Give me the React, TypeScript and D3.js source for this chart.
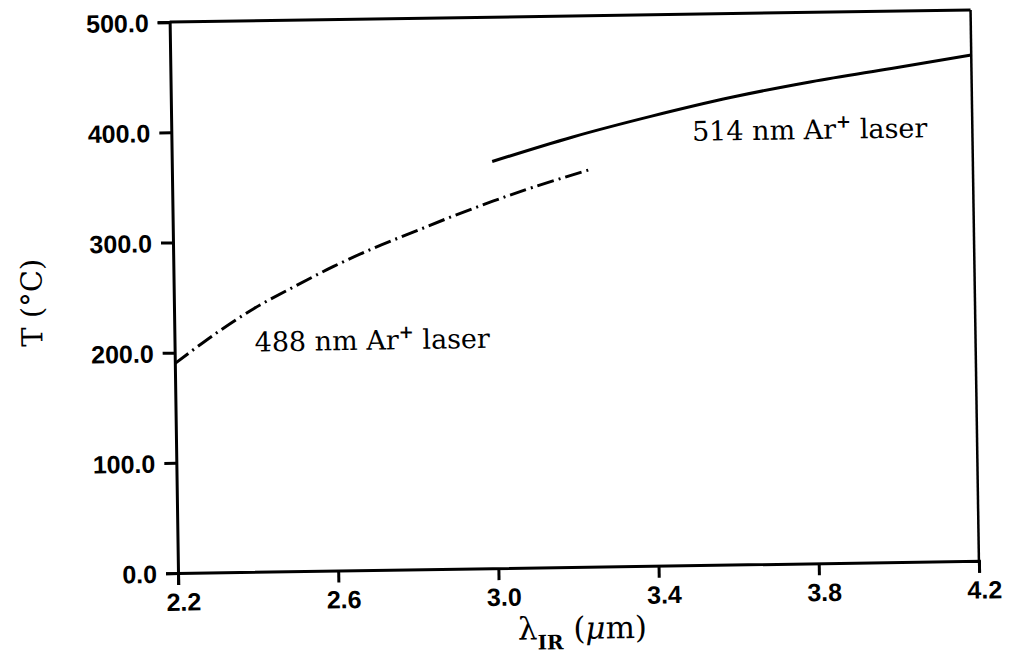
import { useEffect, useRef } from "react";
import * as d3 from "d3";

// 488 nm Ar+ laser (dash-dot curve)
const ar488X = [2.2, 2.3, 2.4, 2.5, 2.6, 2.7, 2.8, 2.9, 3.0, 3.1, 3.24];
const ar488T = [190, 216, 239, 258, 276, 292, 306, 320, 333, 345, 360];

// 514 nm Ar+ laser (solid curve)
const ar514X = [3.0, 3.2, 3.4, 3.6, 3.8, 4.0, 4.2];
const ar514T = [369, 390, 408, 424, 437, 448, 459];

const xTicks = [2.2, 2.6, 3.0, 3.4, 3.8, 4.2];
const yTicks = [0, 100, 200, 300, 400, 500];

const W = 1010;
const H = 669;
// plot box (the scan is turned a little, so the whole chart gets rotated)
const margin = { left: 178, bottom: 96, width: 801, height: 551 };
const tilt = -0.87;

export default function App() {
  const svgRef = useRef<SVGSVGElement>(null);

  useEffect(() => {
    const svg = d3.select(svgRef.current);
    const g = svg.select<SVGGElement>("g.plot");
    g.selectAll("*").remove();

    const x0 = margin.left;
    const y0 = H - margin.bottom;

    const x = d3.scaleLinear().domain([2.2, 4.2]).range([x0, x0 + margin.width]);
    const y = d3.scaleLinear().domain([0, 500]).range([y0, y0 - margin.height]);

    // frame: top and right edges
    g.append("line")
      .attr("x1", x(2.2)).attr("x2", x(4.2))
      .attr("y1", y(500)).attr("y2", y(500))
      .attr("stroke", "#000").attr("stroke-width", 3);
    g.append("line")
      .attr("x1", x(4.2)).attr("x2", x(4.2))
      .attr("y1", y(500)).attr("y2", y(0))
      .attr("stroke", "#000").attr("stroke-width", 2.5);

    // x axis
    const xAxis = d3.axisBottom(x)
      .tickValues(xTicks)
      .tickFormat(d3.format(".1f"))
      .tickSize(12)
      .tickPadding(8);
    const gx = g.append("g").attr("transform", `translate(0,${y0})`).call(xAxis);

    // y axis
    const yAxis = d3.axisLeft(y)
      .tickValues(yTicks)
      .tickFormat(d3.format(".1f"))
      .tickSize(12)
      .tickPadding(9);
    const gy = g.append("g").attr("transform", `translate(${x0},0)`).call(yAxis);

    [gx, gy].forEach((ax) => {
      ax.select(".domain").attr("stroke", "#000").attr("stroke-width", 3);
      ax.selectAll(".tick line").attr("stroke", "#000").attr("stroke-width", 3);
      ax.selectAll(".tick text")
        .attr("fill", "#000")
        .attr("font-family", "'Liberation Sans', Arial, sans-serif")
        .attr("font-weight", "bold")
        .attr("font-size", 25);
    });
    gx.selectAll(".tick text").attr("dx", 5);
    gy.selectAll(".tick text").attr("dy", "0.36em");

    // curves
    const line = d3.line<[number, number]>()
      .x((d) => x(d[0]))
      .y((d) => y(d[1]))
      .curve(d3.curveCatmullRom);

    const pts488 = ar488X.map((v, i) => [v, ar488T[i]] as [number, number]);
    const pts514 = ar514X.map((v, i) => [v, ar514T[i]] as [number, number]);

    g.append("path")
      .attr("d", line(pts488))
      .attr("fill", "none")
      .attr("stroke", "#000")
      .attr("stroke-width", 3)
      .attr("stroke-dasharray", "17,5,2,5");

    g.append("path")
      .attr("d", line(pts514))
      .attr("fill", "none")
      .attr("stroke", "#000")
      .attr("stroke-width", 3);

    // curve labels
    const labels = [
      { text: "488 nm Ar", at: [2.4, 200] },
      { text: "514 nm Ar", at: [3.5, 385] },
    ];
    labels.forEach((l) => {
      const t = g.append("text")
        .attr("x", x(l.at[0]))
        .attr("y", y(l.at[1]))
        .attr("font-family", "'DejaVu Serif', serif")
        .attr("font-size", 27)
        .attr("fill", "#000");
      t.append("tspan").text(l.text);
      t.append("tspan").attr("dy", -11).attr("font-size", 18).attr("font-weight", "bold").text("+");
      t.append("tspan").attr("dy", 11).text(" laser");
    });

    // axis titles
    const yt = g.append("text")
      .attr("transform", `translate(46,${y(250) + 3}) rotate(-90)`)
      .attr("text-anchor", "middle")
      .attr("font-family", "'DejaVu Serif', serif")
      .attr("font-size", 29)
      .attr("fill", "#000");
    yt.text("T (°C)");

    const xt = g.append("text")
      .attr("x", x(3.2) + 3)
      .attr("y", y0 + 72)
      .attr("font-family", "'DejaVu Serif', serif")
      .attr("font-size", 31)
      .attr("fill", "#000")
      .attr("text-anchor", "middle");
    xt.append("tspan").text("λ");
    xt.append("tspan").attr("dy", 10).attr("font-size", 20).attr("font-weight", "bold").text("IR");
    xt.append("tspan").attr("dy", -10).text(" (");
    xt.append("tspan").attr("font-style", "italic").text("μ");
    xt.append("tspan").text("m)");
  }, []);

  return (
    <svg
      ref={svgRef}
      width={W}
      height={H}
      style={{ position: "absolute", left: 0, top: 0, background: "#fff" }}
    >
      <g className="plot" transform={`rotate(${tilt},${margin.left},${H - margin.bottom})`} />
    </svg>
  );
}
